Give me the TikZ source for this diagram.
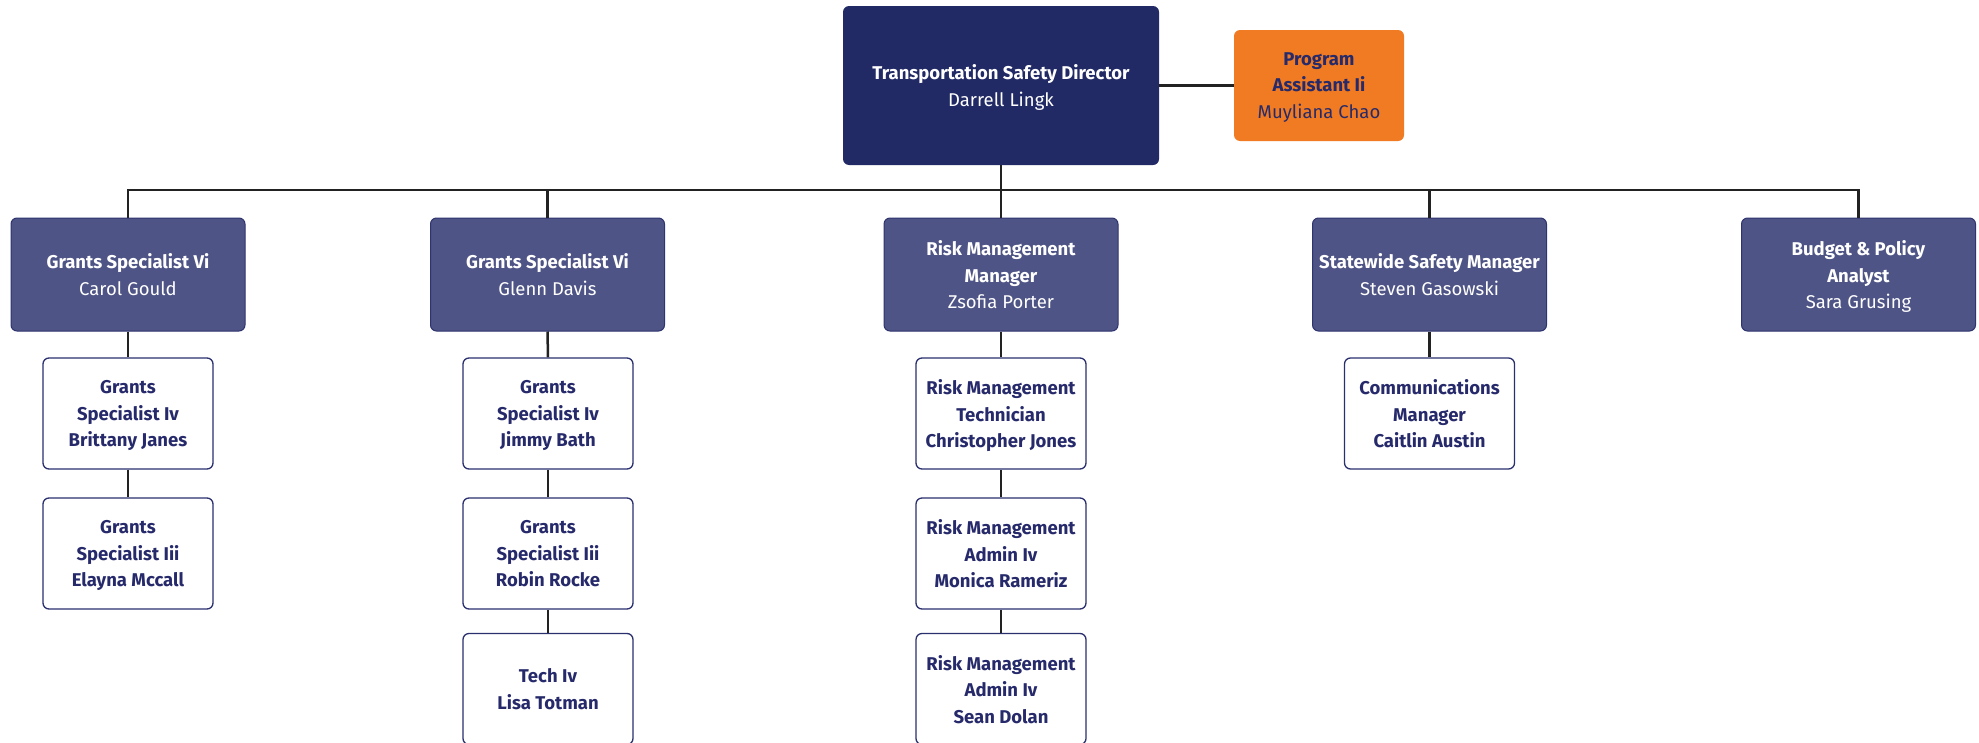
\documentclass[tikz,border=0pt]{standalone}
\usepackage{fontspec}
\setmainfont{Fira Sans}
\definecolor{dirc}{HTML}{212A65}
\definecolor{midc}{HTML}{4E5485}
\definecolor{midb}{HTML}{2E346E}
\definecolor{leafb}{HTML}{2A2F6E}
\definecolor{navyt}{HTML}{262A6B}
\definecolor{orangec}{HTML}{F07B22}
\definecolor{linec}{HTML}{222222}
\tikzset{
  box/.style={rounded corners=6pt, align=center, inner sep=0pt, text depth=0pt, font=\fontsize{18.5}{26.5}\selectfont},
  topbox/.style={box, fill=dirc, text=white, minimum width=316pt, minimum height=159pt},
  pabox/.style={box, fill=orangec, text=navyt, minimum width=170pt, minimum height=111pt},
  midbox/.style={box, fill=midc, draw=midb, line width=1pt, text=white, minimum width=234pt, minimum height=113pt},
  leafbox/.style={box, fill=white, draw=leafb, line width=1.3pt, text=navyt, minimum width=170pt, minimum height=111pt, font=\fontsize{18.5}{26.5}\selectfont\bfseries},
  link/.style={draw=linec, line width=2.5pt}
}
\begin{document}
\begin{tikzpicture}[x=1pt,y=-1pt]
\useasboundingbox (0,0) rectangle (1979,742);
% top
\node[topbox] (dir) at (1001,85.5) {\textbf{Transportation Safety Director}\\Darrell Lingk};
\node[pabox] (pa) at (1319,85.5) {\textbf{Program}\\\textbf{Assistant Ii}\\Muyliana Chao};
% level 2
\node[midbox] (g1) at (128,274.5) {\textbf{Grants Specialist Vi}\\Carol Gould};
\node[midbox] (g2) at (547.5,274.5) {\textbf{Grants Specialist Vi}\\Glenn Davis};
\node[midbox] (rm) at (1001,274.5) {\textbf{Risk Management}\\\textbf{Manager}\\Zsofia Porter};
\node[midbox] (ss) at (1429.5,274.5) {\textbf{Statewide Safety Manager}\\Steven Gasowski};
\node[midbox] (bp) at (1858.5,274.5) {\textbf{Budget \& Policy}\\\textbf{Analyst}\\Sara Grusing};
% leaves column 1
\node[leafbox] (g1a) at (128,413.5) {Grants\\Specialist Iv\\Brittany Janes};
\node[leafbox] (g1b) at (128,553.5) {Grants\\Specialist Iii\\Elayna Mccall};
% column 2
\node[leafbox] (g2a) at (548,413.5) {Grants\\Specialist Iv\\Jimmy Bath};
\node[leafbox] (g2b) at (548,553.5) {Grants\\Specialist Iii\\Robin Rocke};
\node[leafbox] (g2c) at (548,689) {Tech Iv\\Lisa Totman};
% column 3
\node[leafbox] (rma) at (1001,413.5) {Risk Management\\Technician\\Christopher Jones};
\node[leafbox] (rmb) at (1001,553.5) {Risk Management\\Admin Iv\\Monica Rameriz};
\node[leafbox] (rmc) at (1001,689) {Risk Management\\Admin Iv\\Sean Dolan};
% column 4
\node[leafbox] (ssa) at (1429.5,413.5) {Communications\\Manager\\Caitlin Austin};
% connectors
\draw[link] (dir.east) -- (pa.west);
\foreach \n in {g1,g2,rm,ss,bp}
  \draw[link] (dir.south) -- ++(0,25) -| (\n.north);
\draw[link] (g1.south) -- (g1a.north);
\draw[link] (g1a.south) -- (g1b.north);
\draw[link] (g2.south) -- (g2a.north);
\draw[link] (g2a.south) -- (g2b.north);
\draw[link] (g2b.south) -- (g2c.north);
\draw[link] (rm.south) -- (rma.north);
\draw[link] (rma.south) -- (rmb.north);
\draw[link] (rmb.south) -- (rmc.north);
\draw[link] (ss.south) -- (ssa.north);
\end{tikzpicture}
\end{document}
